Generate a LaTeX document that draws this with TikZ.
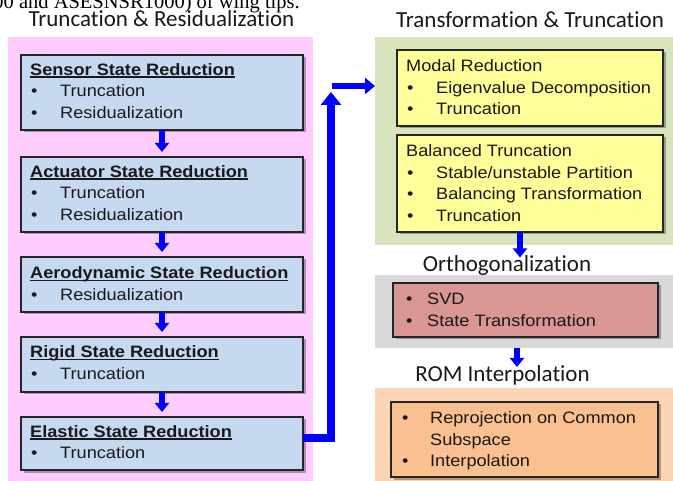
\documentclass[tikz,border=0pt]{standalone}
\usepackage{fontspec}
\setmainfont{Liberation Sans}[FakeStretch=1.1]
\newfontfamily\headfont{Carlito}[Ligatures={NoCommon}]
\newfontfamily\capfont{Liberation Serif}
\usetikzlibrary{arrows.meta,shadows}
\definecolor{cPink}{RGB}{255,204,255}
\definecolor{cBlueBox}{RGB}{198,217,241}
\definecolor{cGreen}{RGB}{215,228,189}
\definecolor{cYellow}{RGB}{255,255,153}
\definecolor{cGrey}{RGB}{217,217,217}
\definecolor{cRed}{RGB}{217,150,148}
\definecolor{cOrangeBg}{RGB}{252,213,181}
\definecolor{cOrange}{RGB}{250,192,144}
\definecolor{cArrow}{RGB}{0,0,255}
\newcommand\myul[1]{\setbox0\hbox{#1}\rlap{\rule[-2.4pt]{\wd0}{1.6pt}}\box0}
\tikzset{
  bgrect/.style={draw=none, inner sep=0pt, outer sep=0pt, anchor=north west},
  boxrect/.style={draw=black!85, line width=1.5pt, inner sep=0pt, outer sep=0pt, anchor=north west,
    drop shadow={shadow xshift=2.5pt, shadow yshift=-2.5pt, opacity=0.3, fill=black}},
  txt/.style={inner sep=0pt, anchor=base west, font=\fontsize{16.5}{20}\selectfont, text=black!90},
  head/.style={inner sep=0pt, anchor=base, font=\headfont\fontsize{23}{28}\selectfont, text=black!90},
  flow/.style={draw=cArrow, line width=6pt, -{Triangle[width=14pt,length=9pt]}},
}
\begin{document}
\begin{tikzpicture}[x=1pt,y=-1pt]
\useasboundingbox (0,0) rectangle (673,481);
\clip (0,0) rectangle (673,481);
% caption fragment
\node[inner sep=0pt, anchor=base east, font=\capfont\fontsize{20.5}{24}\selectfont] (cap) at (300,9) {00 and ASESNSR1000) of wing tips.};
% backgrounds
\node[bgrect, fill=cPink, minimum width=305pt, minimum height=450pt] (pinkbg) at (8,37) {};
\node[bgrect, fill=cGreen, minimum width=300pt, minimum height=208pt] (greenbg) at (375,37) {};
\node[bgrect, fill=cGrey, minimum width=300pt, minimum height=73pt] (greybg) at (375,275) {};
\node[bgrect, fill=cOrangeBg, minimum width=300pt, minimum height=95pt] (orangebg) at (375,388) {};
% titles
\node[head] (t1) at (161.5,26.7) {Truncation \& Residualization};
\node[head] (t2) at (530,28) {Transformation \& Truncation};
\node[head] (t3) at (507,272) {Orthogonalization};
\node[head] (t4) at (502.5,382) {ROM Interpolation};
% left boxes
\node[boxrect, fill=cBlueBox, minimum width=282pt, minimum height=75pt] (sensor) at (21,55) {};
\node[boxrect, fill=cBlueBox, minimum width=282pt, minimum height=75pt] (actuator) at (21,157) {};
\node[boxrect, fill=cBlueBox, minimum width=282pt, minimum height=55pt] (aero) at (21,257) {};
\node[boxrect, fill=cBlueBox, minimum width=282pt, minimum height=55pt] (rigid) at (21,337) {};
\node[boxrect, fill=cBlueBox, minimum width=282pt, minimum height=53pt] (elastic) at (21,417) {};
% right boxes
\node[boxrect, fill=cYellow, minimum width=266pt, minimum height=76pt] (modal) at (397,50) {};
\node[boxrect, fill=cYellow, minimum width=266pt, minimum height=97pt] (balanced) at (397,135) {};
\node[boxrect, fill=cRed, minimum width=265pt, minimum height=54pt] (ortho) at (393,283) {};
\node[boxrect, fill=cOrange, minimum width=267pt, minimum height=75pt] (interp) at (391,402) {};
% left texts
\node[txt] (s0) at (30,75.5) {\bfseries\myul{Sensor State Reduction}};
\node[txt] (s1b) at (31,97) {•};
\node[txt] (s1) at (60,97) {Truncation};
\node[txt] (s2b) at (31,118.5) {•};
\node[txt] (s2) at (60,118.5) {Residualization};
\node[txt] (a0) at (30,177.5) {\bfseries\myul{Actuator State Reduction}};
\node[txt] (a1b) at (31,199) {•};
\node[txt] (a1) at (60,199) {Truncation};
\node[txt] (a2b) at (31,220.5) {•};
\node[txt] (a2) at (60,220.5) {Residualization};
\node[txt] (d0) at (30,279) {\bfseries\myul{Aerodynamic State Reduction}};
\node[txt] (d1b) at (31,301) {•};
\node[txt] (d1) at (60,301) {Residualization};
\node[txt] (r0) at (30,358) {\bfseries\myul{Rigid State Reduction}};
\node[txt] (r1b) at (31,380) {•};
\node[txt] (r1) at (60,380) {Truncation};
\node[txt] (e0) at (30,437.5) {\bfseries\myul{Elastic State Reduction}};
\node[txt] (e1b) at (31,459) {•};
\node[txt] (e1) at (60,459) {Truncation};
% right texts
\node[txt] (m0) at (406,71.5) {Modal Reduction};
\node[txt] (m1b) at (407,93.2) {•};
\node[txt] (m1) at (436,93.2) {Eigenvalue Decomposition};
\node[txt] (m2b) at (407,115) {•};
\node[txt] (m2) at (436,115) {Truncation};
\node[txt] (b0) at (406,156.5) {Balanced Truncation};
\node[txt] (b1b) at (407,178.2) {•};
\node[txt] (b1) at (436,178.2) {Stable/unstable Partition};
\node[txt] (b2b) at (407,200) {•};
\node[txt] (b2) at (436,200) {Balancing Transformation};
\node[txt] (b3b) at (407,221.7) {•};
\node[txt] (b3) at (436,221.7) {Truncation};
\node[txt] (o1b) at (406,304.5) {•};
\node[txt] (o1) at (427,304.5) {SVD};
\node[txt] (o2b) at (406,326.2) {•};
\node[txt] (o2) at (427,326.2) {State Transformation};
\node[txt] (i1b) at (402,423.5) {•};
\node[txt] (i1) at (430,423.5) {Reprojection on Common};
\node[txt] (i1c) at (430,445.2) {Subspace};
\node[txt] (i2b) at (402,467) {•};
\node[txt] (i2) at (430,467) {Interpolation};
% left flow arrows
\draw[flow, shorten >=5pt] (sensor.south) -- (actuator.north);
\draw[flow, shorten >=5pt] (actuator.south) -- (aero.north);
\draw[flow, shorten >=5pt] (aero.south) -- (rigid.north);
\draw[flow, shorten >=5pt] (rigid.south) -- (elastic.north);
% big connector
\coordinate (upend) at (331,92);
\coordinate (corner) at (332,86);
\draw[draw=cArrow, line width=8pt, line join=miter, -{Triangle[width=20pt,length=13pt]}]
  ([yshift=5pt]elastic.east) -| (upend);
\draw[draw=cArrow, line width=6pt, -{Triangle[width=16pt,length=10pt]}]
  (corner) -- (corner -| greenbg.west);
% right arrows
\coordinate (r1s) at (520,232);
\coordinate (r1e) at (520,257.5);
\coordinate (r2s) at (517,348);
\coordinate (r2e) at (517,367);
\draw[flow] (r1s) -- (r1e);
\draw[flow] (r2s) -- (r2e);
\end{tikzpicture}
\end{document}
